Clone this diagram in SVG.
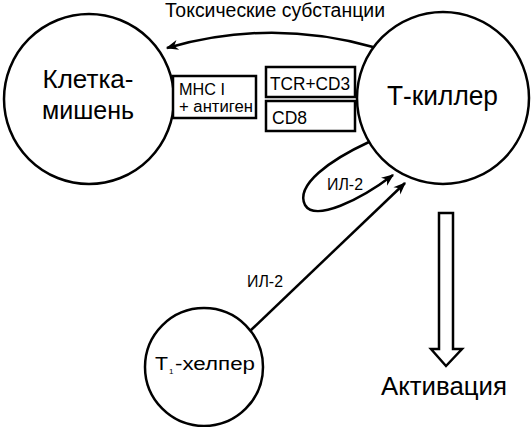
<svg xmlns="http://www.w3.org/2000/svg" width="531" height="427" viewBox="0 0 531 427">
<style>
.c{fill:#fff;stroke:#000;stroke-width:2.5}
.b{fill:#fff;stroke:#000;stroke-width:2.5}
.t{font-family:"Liberation Sans",Arial,sans-serif;fill:#000}
.l{fill:none;stroke:#000;stroke-width:2.5}
</style>
<defs>
<marker id="ah" viewBox="0 0 10 10" refX="9" refY="5" markerWidth="5.5" markerHeight="5" orient="auto" markerUnits="strokeWidth">
<path d="M0,1 L10,5 L0,9 L3,5 Z" fill="#000"/>
</marker>
</defs>
<g id="connectors">
<path class="l" d="M373,47 Q270,18 167,48" marker-end="url(#ah)"/>
<path class="l" d="M369,142 C330,160 295,185 305,205 C315,222 360,200 393,175" marker-end="url(#ah)"/>
<path class="l" d="M250,331 L405,183" marker-end="url(#ah)"/>
<path fill="#fff" stroke="#000" stroke-width="2.5" d="M439,213 L453,213 L453,349 L462,349 L446,366 L431,349 L439,349 Z"/>
</g>
<text class="t" x="275" y="17" font-size="19.5" text-anchor="middle" textLength="220" lengthAdjust="spacingAndGlyphs">Токсические субстанции</text>
<text class="t" x="265" y="287" font-size="16.5" text-anchor="middle" textLength="36" lengthAdjust="spacingAndGlyphs">ИЛ-2</text>
<text class="t" x="345" y="190" font-size="16.5" text-anchor="middle" textLength="36" lengthAdjust="spacingAndGlyphs">ИЛ-2</text>
<text class="t" x="444" y="395" font-size="25" text-anchor="middle" textLength="126" lengthAdjust="spacingAndGlyphs">Активация</text>
<g id="target">
<circle class="c" cx="89" cy="99" r="85"/>
<text class="t" x="88" y="88" font-size="25" text-anchor="middle" textLength="91" lengthAdjust="spacingAndGlyphs">Клетка-</text>
<text class="t" x="88" y="119" font-size="25" text-anchor="middle" textLength="92" lengthAdjust="spacingAndGlyphs">мишень</text>
</g>
<g id="killer">
<circle class="c" cx="443" cy="98" r="86"/>
<text class="t" x="442.5" y="105" font-size="27" text-anchor="middle" textLength="111" lengthAdjust="spacingAndGlyphs">Т-киллер</text>
</g>
<g id="helper">
<circle class="c" cx="204" cy="367" r="59"/>
<text class="t" x="155" y="370" font-size="18" textLength="13" lengthAdjust="spacingAndGlyphs">Т</text>
<text class="t" x="169" y="374" font-size="8">1</text>
<text class="t" x="175" y="370" font-size="18" textLength="80" lengthAdjust="spacingAndGlyphs">-хелпер</text>
</g>
<g id="mhc">
<rect class="b" x="173" y="76" width="83" height="42"/>
<text class="t" x="179" y="95" font-size="16" textLength="46" lengthAdjust="spacingAndGlyphs">MHC I</text>
<text class="t" x="179" y="112" font-size="16" textLength="74" lengthAdjust="spacingAndGlyphs">+ антиген</text>
</g>
<g id="tcr">
<rect class="b" x="266" y="67" width="89" height="30" stroke-width="3"/>
<text class="t" x="270" y="90" font-size="17.5" textLength="80" lengthAdjust="spacingAndGlyphs">TCR+CD3</text>
</g>
<g id="cd8">
<rect class="b" x="266" y="101" width="89" height="30" stroke-width="3"/>
<text class="t" x="272" y="124" font-size="17.5">CD8</text>
</g>
</svg>
